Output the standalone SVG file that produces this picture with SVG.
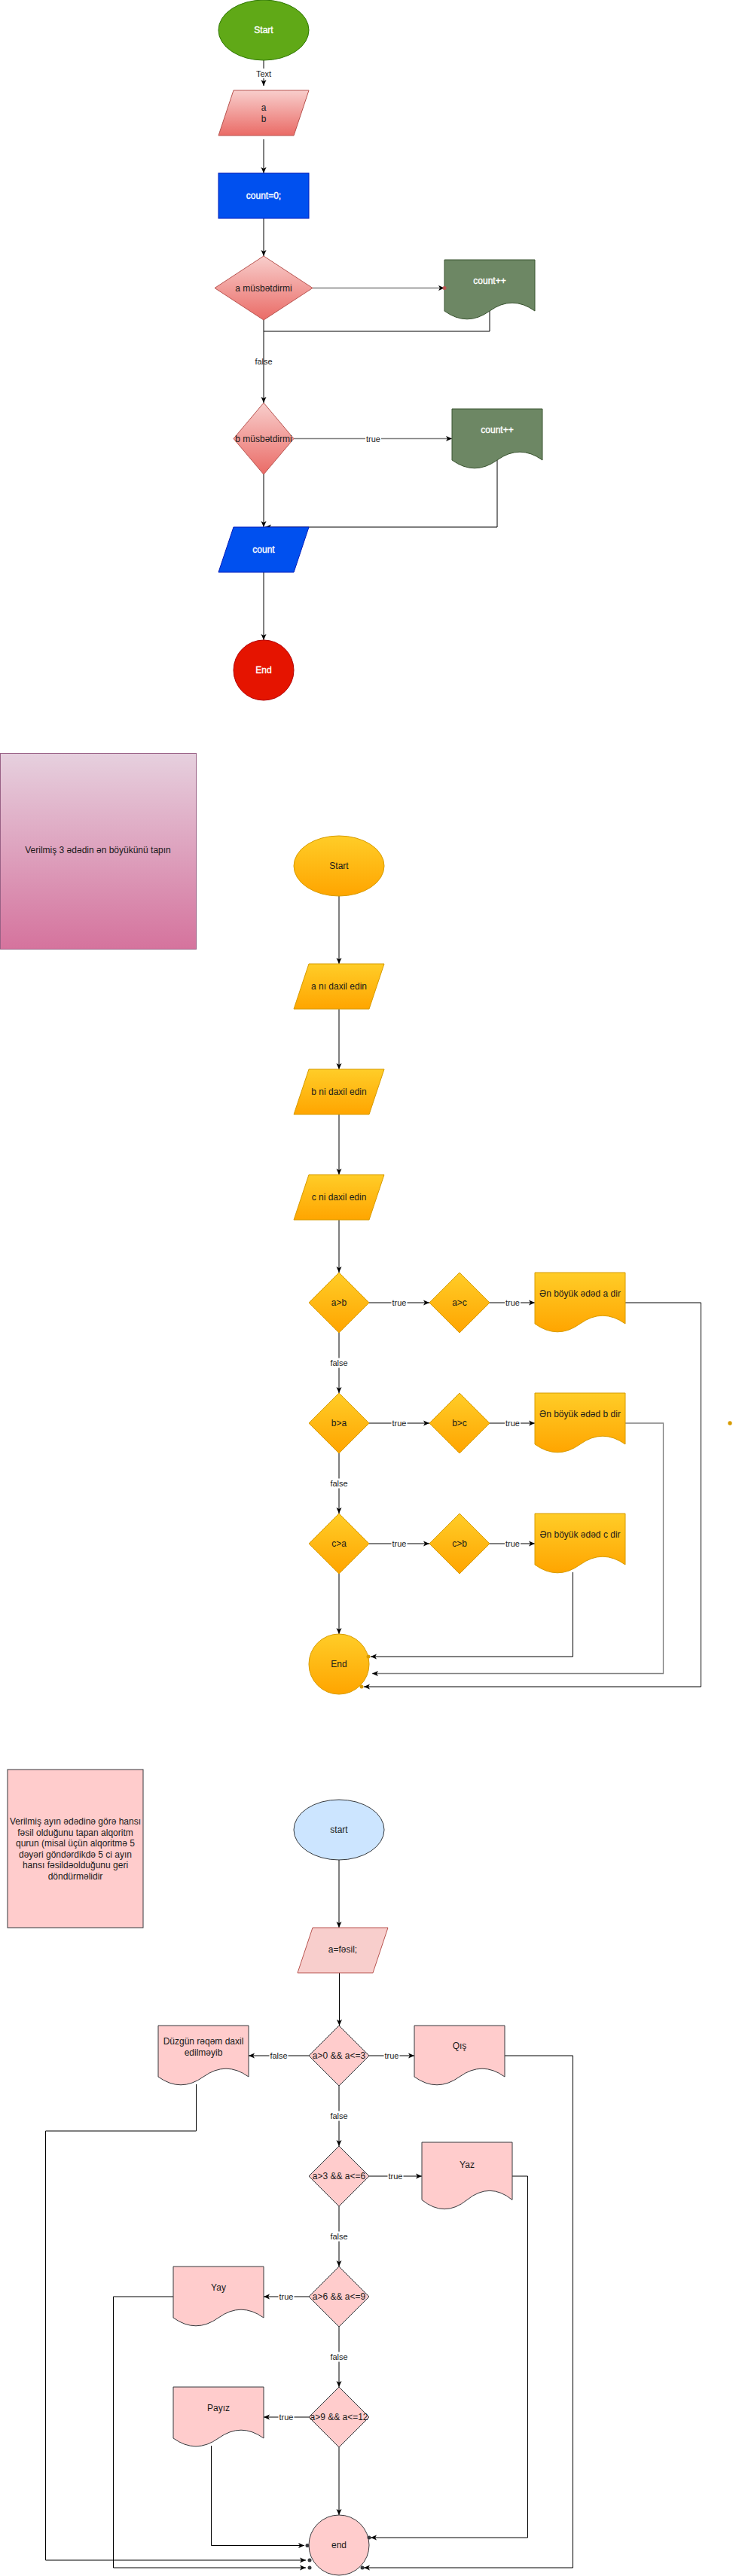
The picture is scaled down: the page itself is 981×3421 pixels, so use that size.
<svg xmlns="http://www.w3.org/2000/svg" width="981" height="3421" viewBox="0 0 981 3421">
<style>
text{font-family:"Liberation Sans",Arial,Helvetica,sans-serif;font-size:12px;text-anchor:middle;fill:#1a1a1a}
.w{fill:#ffffff;stroke:#ffffff;stroke-width:0.35}
.lbl{font-size:11px;fill:#1a1a1a}
.bg{fill:#ffffff}
.e{fill:none;stroke:#000;stroke-width:1}
.eg{fill:none;stroke:#808080;stroke-width:1.3}
.a{marker-end:url(#arr)}
.red{fill:url(#gRed);stroke:#b85450}
.yel{fill:url(#gYel);stroke:#d79b00}
.pk{fill:#ffcccc;stroke:#36393d}
.dot{fill:#36393d}
.odot{fill:#d79b00}
</style>
<defs>
<linearGradient id="gRed" x1="0" y1="0" x2="0" y2="1"><stop offset="0" stop-color="#f8cecc"/><stop offset="1" stop-color="#ea6b66"/></linearGradient>
<linearGradient id="gYel" x1="0" y1="0" x2="0" y2="1"><stop offset="0" stop-color="#ffcd28"/><stop offset="1" stop-color="#ffa500"/></linearGradient>
<linearGradient id="gPink" x1="0" y1="0" x2="0" y2="1"><stop offset="0" stop-color="#e6d0de"/><stop offset="1" stop-color="#d5739d"/></linearGradient>
<marker id="arr" markerUnits="userSpaceOnUse" markerWidth="8" markerHeight="8" viewBox="0 0 8 8" refX="8" refY="4" orient="auto"><path d="M0,0.5 L8,4 L0,7.5 L2,4 Z" fill="#000"/></marker>
</defs>
<rect width="981" height="3421" fill="#ffffff"/>

<!-- connectors -->
<g id="connectors">
<!-- diagram 1 -->
<path class="e a" d="M350,80 V114"/>
<path class="e a" d="M350,185 V230"/>
<path class="e a" d="M350,290 V340"/>
<path class="eg a" d="M415,382.5 H590"/>
<path class="e" d="M650,413 V440 H350"/>
<path class="e a" d="M350,425 V535"/>
<path class="eg a" d="M390,582.5 H600"/>
<path class="e a" d="M660,611 V700 H352"/>
<path class="e a" d="M350,630 V700"/>
<path class="e a" d="M350,760 V850"/>
<!-- diagram 2 -->
<path class="e a" d="M450,1190 V1280"/>
<path class="e a" d="M450,1340 V1420"/>
<path class="e a" d="M450,1480 V1560"/>
<path class="e a" d="M450,1620 V1690"/>
<path class="e a" d="M490,1730 H570"/>
<path class="e a" d="M650,1730 H710"/>
<path class="e a" d="M450,1770 V1850"/>
<path class="e a" d="M490,1890 H570"/>
<path class="e a" d="M650,1890 H710"/>
<path class="e a" d="M450,1930 V2010"/>
<path class="e a" d="M490,2050 H570"/>
<path class="e a" d="M650,2050 H710"/>
<path class="e a" d="M450,2090 V2170"/>
<path class="e a" d="M830,1730 H930.5 V2240 H483"/>
<path class="eg a" d="M830,1890 H880.5 V2222.5 H494"/>
<path class="e a" d="M760.5,2088 V2200 H492"/>
<!-- diagram 3 -->
<path class="e a" d="M450,2470 V2560"/>
<path class="e a" d="M450.5,2620 V2690"/>
<path class="e a" d="M410,2730 H330"/>
<path class="e a" d="M490,2730 H550"/>
<path class="e a" d="M450,2770 V2850"/>
<path class="e a" d="M490,2890 H560"/>
<path class="e a" d="M450,2930 V3010"/>
<path class="e a" d="M410,3050 H350"/>
<path class="e a" d="M450,3090 V3170"/>
<path class="e a" d="M410,3210 H350"/>
<path class="e a" d="M450,3250 V3340"/>
<path class="e a" d="M260.5,2768 V2830 H60.5 V3400 H406"/>
<path class="e a" d="M230,3050 H150.5 V3410 H406"/>
<path class="e a" d="M280.5,3248 V3380.5 H404"/>
<path class="e a" d="M670,2730 H760.5 V3410 H483"/>
<path class="e a" d="M680,2890 H700.5 V3370 H492"/>

<!-- labels -->
<rect class="bg" x="338" y="91" width="24" height="13"/><text class="lbl" x="350" y="102">Text</text>
<text class="lbl" x="350" y="484">false</text>
<rect class="bg" x="485" y="576" width="21" height="13"/><text class="lbl" x="495.5" y="586.5">true</text>

<rect class="bg" x="519.5" y="1723.5" width="21" height="13"/><text class="lbl" x="530" y="1734">true</text>
<rect class="bg" x="670" y="1723.5" width="21" height="13"/><text class="lbl" x="680.5" y="1734">true</text>
<rect class="bg" x="437.5" y="1803.5" width="25" height="13"/><text class="lbl" x="450" y="1814">false</text>
<rect class="bg" x="519.5" y="1883.5" width="21" height="13"/><text class="lbl" x="530" y="1894">true</text>
<rect class="bg" x="670" y="1883.5" width="21" height="13"/><text class="lbl" x="680.5" y="1894">true</text>
<rect class="bg" x="437.5" y="1963.5" width="25" height="13"/><text class="lbl" x="450" y="1974">false</text>
<rect class="bg" x="519.5" y="2043.5" width="21" height="13"/><text class="lbl" x="530" y="2054">true</text>
<rect class="bg" x="670" y="2043.5" width="21" height="13"/><text class="lbl" x="680.5" y="2054">true</text>

<rect class="bg" x="357.5" y="2723.5" width="25" height="13"/><text class="lbl" x="370" y="2734">false</text>
<rect class="bg" x="509.5" y="2723.5" width="21" height="13"/><text class="lbl" x="520" y="2734">true</text>
<rect class="bg" x="437.5" y="2803.5" width="25" height="13"/><text class="lbl" x="450" y="2814">false</text>
<rect class="bg" x="514.5" y="2883.5" width="21" height="13"/><text class="lbl" x="525" y="2894">true</text>
<rect class="bg" x="437.5" y="2963.5" width="25" height="13"/><text class="lbl" x="450" y="2974">false</text>
<rect class="bg" x="369.5" y="3043.5" width="21" height="13"/><text class="lbl" x="380" y="3054">true</text>
<rect class="bg" x="437.5" y="3123.5" width="25" height="13"/><text class="lbl" x="450" y="3134">false</text>
<rect class="bg" x="369.5" y="3203.5" width="21" height="13"/><text class="lbl" x="380" y="3214">true</text>
</g>

<!-- ===== Diagram 1 ===== -->
<g id="start1"><ellipse cx="350" cy="40" rx="60" ry="40" fill="#60a917" stroke="#2d7600"/><text class="w" x="350" y="44">Start</text></g>
<g id="input-ab"><polygon class="red" points="310,120 410,120 390,180 290,180"/><text x="350" y="147">a</text><text x="350" y="162">b</text></g>
<g id="count0"><rect x="290" y="230" width="120" height="60" fill="#0050ef" stroke="#001dbc"/><text class="w" x="350" y="264">count=0;</text></g>
<g id="dec-a"><polygon class="red" points="350,340 415,382.5 350,425 285,382.5"/><text x="350" y="386.5">a müsbətdirmi</text></g>
<g id="inc1"><path d="M590,345 H710 V413 Q680,391.4 650,413 Q620,434.6 590,413 Z" fill="#6d8764" stroke="#3a5431"/><text class="w" x="650" y="377">count++</text></g>
<circle cx="590" cy="382.5" r="2.5" fill="#b85450"/>
<g id="dec-b"><polygon class="red" points="350,535 390,582.5 350,630 310,582.5"/><text x="350" y="586.5">b müsbətdirmi</text></g>
<g id="inc2"><path d="M600,543 H720 V611 Q690,589.4 660,611 Q630,632.6 600,611 Z" fill="#6d8764" stroke="#3a5431"/><text class="w" x="660" y="575">count++</text></g>
<g id="out-count"><polygon points="310,700 410,700 390,760 290,760" fill="#0050ef" stroke="#001dbc"/><text class="w" x="350" y="734">count</text></g>
<g id="end1"><circle cx="350" cy="890" r="40" fill="#e51400" stroke="#b20000"/><text class="w" x="350" y="894">End</text></g>

<!-- ===== Diagram 2 ===== -->
<g id="note2"><rect x="0.5" y="1000.5" width="260" height="260" fill="url(#gPink)" stroke="#996185"/><text x="130" y="1133">Verilmiş 3 ədədin ən böyükünü tapın</text></g>
<g id="start2"><ellipse class="yel" cx="450" cy="1150" rx="60" ry="40"/><text x="450" y="1154">Start</text></g>
<g id="in-a"><polygon class="yel" points="410,1280 510,1280 490,1340 390,1340"/><text x="450" y="1314">a nı daxil edin</text></g>
<g id="in-b"><polygon class="yel" points="410,1420 510,1420 490,1480 390,1480"/><text x="450" y="1454">b ni daxil edin</text></g>
<g id="in-c"><polygon class="yel" points="410,1560 510,1560 490,1620 390,1620"/><text x="450" y="1594">c ni daxil edin</text></g>
<g id="d-ab"><polygon class="yel" points="450,1690 490,1730 450,1770 410,1730"/><text x="450" y="1734">a&gt;b</text></g>
<g id="d-ac"><polygon class="yel" points="610,1690 650,1730 610,1770 570,1730"/><text x="610" y="1734">a&gt;c</text></g>
<g id="out-a"><path class="yel" d="M710,1690 H830 V1758 Q800,1736.4 770,1758 Q740,1779.6 710,1758 Z"/><text x="770" y="1722">Ən böyük ədəd a dir</text></g>
<g id="d-ba"><polygon class="yel" points="450,1850 490,1890 450,1930 410,1890"/><text x="450" y="1894">b&gt;a</text></g>
<g id="d-bc"><polygon class="yel" points="610,1850 650,1890 610,1930 570,1890"/><text x="610" y="1894">b&gt;c</text></g>
<g id="out-b"><path class="yel" d="M710,1850 H830 V1918 Q800,1896.4 770,1918 Q740,1939.6 710,1918 Z"/><text x="770" y="1882">Ən böyük ədəd b dir</text></g>
<g id="d-ca"><polygon class="yel" points="450,2010 490,2050 450,2090 410,2050"/><text x="450" y="2054">c&gt;a</text></g>
<g id="d-cb"><polygon class="yel" points="610,2010 650,2050 610,2090 570,2050"/><text x="610" y="2054">c&gt;b</text></g>
<g id="out-c"><path class="yel" d="M710,2010 H830 V2078 Q800,2056.4 770,2078 Q740,2099.6 710,2078 Z"/><text x="770" y="2042">Ən böyük ədəd c dir</text></g>
<g id="end2"><circle class="yel" cx="450" cy="2210" r="40"/><text x="450" y="2214">End</text></g>
<circle class="odot" cx="489" cy="2200" r="2.5"/>
<circle class="odot" cx="480" cy="2240" r="2.5"/>
<circle class="odot" cx="969" cy="1890" r="2.7"/>

<!-- ===== Diagram 3 ===== -->
<g id="note3"><rect class="pk" x="10" y="2350" width="180" height="210"/>
<text x="100" y="2423">Verilmiş ayın ədədinə görə hansı</text>
<text x="100" y="2437.5">fəsil olduğunu tapan alqoritm</text>
<text x="100" y="2452">qurun (misal üçün alqoritmə 5</text>
<text x="100" y="2466.5">dəyəri göndərdikdə 5 ci ayın</text>
<text x="100" y="2481">hansı fəsildəolduğunu geri</text>
<text x="100" y="2495.5">döndürməlidir</text></g>
<g id="start3"><ellipse cx="450" cy="2430" rx="60" ry="40" fill="#cce5ff" stroke="#36393d"/><text x="450" y="2434">start</text></g>
<g id="in-fesil"><polygon points="415,2560 515,2560 495,2620 395,2620" fill="#f8cecc" stroke="#b85450"/><text x="455" y="2593">a=fəsil;</text></g>
<g id="q1"><polygon class="pk" points="450,2690 490,2730 450,2770 410,2730"/><text x="450" y="2734">a&gt;0 &amp;&amp; a&lt;=3</text></g>
<g id="err"><path class="pk" d="M210,2690 H330 V2758 Q300,2736.4 270,2758 Q240,2779.6 210,2758 Z"/><text x="270" y="2715">Düzgün rəqəm daxil</text><text x="270" y="2730">edilməyib</text></g>
<g id="qis"><path class="pk" d="M550,2690 H670 V2758 Q640,2736.4 610,2758 Q580,2779.6 550,2758 Z"/><text x="610" y="2721">Qış</text></g>
<g id="q2"><polygon class="pk" points="450,2850 490,2890 450,2930 410,2890"/><text x="450" y="2894">a&gt;3 &amp;&amp; a&lt;=6</text></g>
<g id="yaz"><path class="pk" d="M560,2845 H680 V2921.5 Q650,2897.2 620,2921.5 Q590,2945.8 560,2921.5 Z"/><text x="620" y="2879">Yaz</text></g>
<g id="q3"><polygon class="pk" points="450,3010 490,3050 450,3090 410,3050"/><text x="450" y="3054">a&gt;6 &amp;&amp; a&lt;=9</text></g>
<g id="yay"><path class="pk" d="M230,3010 H350 V3078 Q320,3056.4 290,3078 Q260,3099.6 230,3078 Z"/><text x="290" y="3042">Yay</text></g>
<g id="q4"><polygon class="pk" points="450,3170 490,3210 450,3250 410,3210"/><text x="450" y="3214">a&gt;9 &amp;&amp; a&lt;=12</text></g>
<g id="payiz"><path class="pk" d="M230,3170 H350 V3238 Q320,3216.4 290,3238 Q260,3259.6 230,3238 Z"/><text x="290" y="3202">Payız</text></g>
<g id="end3"><circle class="pk" cx="450" cy="3380" r="40"/><text x="450" y="3384">end</text></g>
<circle class="dot" cx="408" cy="3380.5" r="2.5"/>
<circle class="dot" cx="411" cy="3400" r="2.5"/>
<circle class="dot" cx="411" cy="3410" r="2.5"/>
<circle class="dot" cx="481" cy="3410" r="2.5"/>
<circle class="dot" cx="490" cy="3370" r="2.5"/>
</svg>
